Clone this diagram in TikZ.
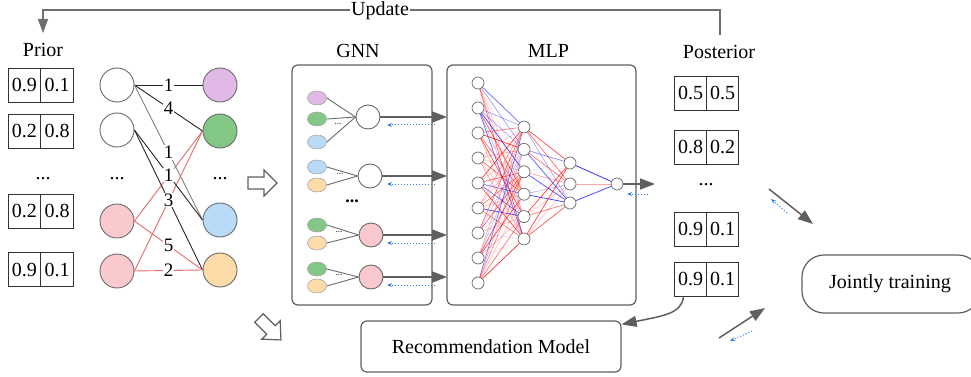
\documentclass[tikz,border=0pt]{standalone}
\usepackage{fontspec}
\setmainfont{Liberation Serif}
\newfontfamily\tmsfont{Liberation Serif}
\usetikzlibrary{arrows.meta,shapes.geometric,backgrounds}
\definecolor{lg}{HTML}{5F5F5F}
\definecolor{ngray}{HTML}{6A6A6A}
\definecolor{cpink}{HTML}{F9C9CE}
\definecolor{cpurple}{HTML}{E1B9E6}
\definecolor{cgreen}{HTML}{82C785}
\definecolor{cblue}{HTML}{B9DBF7}
\definecolor{corange}{HTML}{FDDCAA}
\definecolor{dotblue}{HTML}{2F7FE0}
\definecolor{ered}{HTML}{E36B6B}
\begin{document}
\begin{tikzpicture}[x=1pt,y=-1pt,
  font=\tmsfont\fontsize{20}{24}\selectfont,
  cell/.style={draw=black!80, line width=0.8pt, minimum width=32.5pt, minimum height=34pt, inner sep=0pt},
  bnode/.style={circle, draw=ngray, line width=0.9pt, minimum size=34pt, inner sep=0pt},
  gsmall/.style={ellipse, draw=ngray!60, line width=0.6pt, minimum width=19pt, minimum height=14pt, inner sep=0pt},
  gtarget/.style={circle, draw=ngray, line width=0.9pt, minimum size=24pt, inner sep=0pt},
  mnode/.style={circle, draw=ngray, fill=white, line width=0.7pt, minimum size=12pt, inner sep=0pt},
  panel/.style={draw=lg, line width=1.2pt, rounded corners=6pt, inner sep=0pt},
  garrow/.style={draw=lg, line width=1.5pt, -{Triangle[length=15pt,width=11pt]}},
  barrow/.style={draw=dotblue, line width=1pt, dotted, -{Stealth[length=5pt,width=4pt]}},
  elab/.style={fill=white, text=black, inner sep=1pt, font=\tmsfont\fontsize{19}{20}\selectfont},
  gline/.style={draw=ngray, line width=0.9pt},
  hollow/.style={draw=lg, line width=1.2pt, fill=white, line join=miter},
  tinydots/.style={font=\tmsfont\fontsize{9}{10}\selectfont, inner sep=0pt}
]
\useasboundingbox (0,0) rectangle (971,377);

% ---------- Update loop ----------
\coordinate (upA) at (720,35);
\coordinate (upB) at (720,10);
\coordinate (upC) at (43,10);
\coordinate (upD) at (43,33);
\draw[draw=lg!90, line width=1.3pt, -{Triangle[length=14pt,width=10pt]}] (upA) -- (upB) -- (upC) -- (upD);
\node[fill=white, inner sep=1pt] (update) at (380,11) {Update};

% ---------- Prior ----------
\node (prior) at (43,50) {Prior};
\node[cell] (pa1) at (24.5,85) {0.9};  \node[cell] (pb1) at (57,85) {0.1};
\node[cell] (pa2) at (24.5,131) {0.2}; \node[cell] (pb2) at (57,131) {0.8};
\node (pdots) at (43,179) {...};
\node[cell] (pa3) at (24.5,211) {0.2}; \node[cell] (pb3) at (57,211) {0.8};
\node[cell] (pa4) at (24.5,269.5) {0.9}; \node[cell] (pb4) at (57,269.5) {0.1};

% ---------- Bipartite graph ----------
\node[bnode, fill=white] (L1) at (117,85) {};
\node[bnode, fill=white] (L2) at (117,130) {};
\node (Ldots) at (117,179) {...};
\node[bnode, fill=cpink] (L3) at (117,221) {};
\node[bnode, fill=cpink] (L4) at (117,271) {};
\node[bnode, fill=cpurple] (R1) at (220,85) {};
\node[bnode, fill=cgreen] (R2) at (220,131) {};
\node (Rdots) at (220,179) {...};
\node[bnode, fill=cblue] (R3) at (220,220) {};
\node[bnode, fill=corange] (R4) at (220,270) {};

\draw[ered, line width=0.9pt] (L3.east) -- (R2.west);
\draw[ered, line width=0.9pt] (L4.east) -- (R2.west);
\draw[black!85, line width=0.9pt] (L1.east) -- node[elab]{1} (R1.west);
\draw[black!85, line width=0.9pt] (L1.east) -- node[elab]{4} (R2.west);
\draw[black!50, line width=0.9pt] (L1.east) -- node[elab]{1} (R3.west);
\draw[black!85, line width=0.9pt] (L2.east) -- node[elab]{1} (R3.west);
\draw[black!85, line width=0.9pt] (L2.east) -- node[elab]{3} (R4.west);
\draw[ered, line width=0.9pt] (L3.east) -- node[elab]{5} (R4.west);
\draw[ered, line width=0.9pt] (L4.east) -- node[elab]{2} (R4.west);

% ---------- hollow arrows ----------
\draw[hollow, shift={(248,183)}] (0,-6) -- (16,-6) -- (16,-13) -- (29,0) -- (16,13) -- (16,6) -- (0,6) -- cycle;
\draw[hollow, shift={(259,318)}, rotate=-45] (0,-6) -- (17,-6) -- (17,-13) -- (31,0) -- (17,13) -- (17,6) -- (0,6) -- cycle;

% ---------- GNN ----------
\node (gnnlab) at (358,51) {GNN};
\node[panel, minimum width=140pt, minimum height=240pt] (gnn) at (362,185) {};
\node[panel, minimum width=189pt, minimum height=240pt] (mlp) at (541.5,185) {};
\node (mlplab) at (548.5,51) {MLP};

% group 1
\node[gsmall, fill=cpurple] (g1a) at (317,98) {};
\node[gsmall, fill=cgreen] (g1b) at (317,119) {};
\node[gsmall, fill=cblue] (g1c) at (317,142) {};
\node[gtarget, fill=white] (t1) at (368,117) {};
\node[tinydots] (g1d) at (338,124) {...};
\foreach \s in {g1a,g1b,g1c} \draw[gline] (\s.east) -- (t1.west);
% group 2
\node[gsmall, fill=cblue] (g2a) at (317,167) {};
\node[gsmall, fill=corange] (g2b) at (317,185) {};
\node[gtarget, fill=white] (t2) at (370,176) {};
\node[tinydots] (g2d) at (340,174) {...};
\foreach \s in {g2a,g2b} \draw[gline] (\s.east) -- (t2.west);
% big dots
\node[font=\tmsfont\fontsize{18}{20}\selectfont\bfseries] (gdots) at (352,201) {...};
% group 3
\node[gsmall, fill=cgreen] (g3a) at (317,225) {};
\node[gsmall, fill=corange] (g3b) at (317,243) {};
\node[gtarget, fill=cpink] (t3) at (371,235) {};
\node[tinydots] (g3d) at (339,232) {...};
\foreach \s in {g3a,g3b} \draw[gline] (\s.east) -- (t3.west);
% group 4
\node[gsmall, fill=cgreen] (g4a) at (317,269) {};
\node[gsmall, fill=corange] (g4b) at (317,286) {};
\node[gtarget, fill=cpink] (t4) at (371,277) {};
\node[tinydots] (g4d) at (339,275) {...};
\foreach \s in {g4a,g4b} \draw[gline] (\s.east) -- (t4.west);

% arrows GNN -> MLP
\foreach \t/\yy in {t1/117,t2/176,t3/235,t4/277}{
  \coordinate (in\t) at (447,\yy);
  \draw[garrow] (\t.east) -- (in\t);
  \coordinate (bs\t) at (435,\yy+8);
  \coordinate (be\t) at (387,\yy+8);
  \draw[barrow] (bs\t) -- (be\t);
}

% ---------- MLP network ----------
\foreach \i in {1,...,9} \node[mnode] (a\i) at (478,{83+25*(\i-1)}) {};
\foreach \j in {1,...,6} \node[mnode] (b\j) at (524,{127+22.4*(\j-1)}) {};
\node[mnode] (c1) at (570,163) {};
\node[mnode] (c2) at (570,184) {};
\node[mnode] (c3) at (570,203) {};
\node[mnode] (d) at (617,184) {};
\pgfmathsetseed{11}
\begin{pgfonlayer}{background}
\foreach \i in {1,...,9}{\foreach \j in {1,...,6}{
  \pgfmathsetmacro\op{0.1+0.75*rnd}
  \pgfmathsetmacro\cc{rnd}
  \ifdim\cc pt<0.62pt \def\col{red}\else\def\col{blue}\fi
  \draw[draw=\col, draw opacity=\op, line width=0.7pt] (a\i) -- (b\j);
}}
\foreach \j in {1,...,6}{\foreach \k in {1,2,3}{
  \pgfmathsetmacro\op{0.1+0.7*rnd}
  \pgfmathsetmacro\cc{rnd}
  \ifdim\cc pt<0.45pt \def\col{red}\else\def\col{blue}\fi
  \draw[draw=\col, draw opacity=\op, line width=0.7pt] (b\j) -- (c\k);
}}
\draw[draw=blue, draw opacity=0.8, line width=0.8pt] (c1) -- (d);
\draw[draw=red, draw opacity=0.35, line width=0.8pt] (c2) -- (d);
\draw[draw=blue, draw opacity=0.7, line width=0.8pt] (c3) -- (d);
\end{pgfonlayer}

\coordinate (mlpout) at (655,184);
\draw[garrow] (d.east) -- (mlpout);
\coordinate (mbs) at (648,194);
\coordinate (mbe) at (627,194);
\draw[barrow] (mbs) -- (mbe);

% ---------- Posterior ----------
\node (post) at (719,52) {Posterior};
\node[cell] (qa1) at (690.5,93) {0.5}; \node[cell] (qb1) at (722.5,93) {0.5};
\node[cell] (qa2) at (690.5,147) {0.8}; \node[cell] (qb2) at (722.5,147) {0.2};
\node (qdots) at (706,185) {...};
\node[cell] (qa3) at (690.5,229) {0.9}; \node[cell] (qb3) at (722.5,229) {0.1};
\node[cell] (qa4) at (690.5,279) {0.9}; \node[cell] (qb4) at (722.5,279) {0.1};

% ---------- Recommendation & Jointly training ----------
\node[panel, minimum width=260pt, minimum height=51pt] (rec) at (491,346.5) {Recommendation Model};
\node[draw=lg, line width=1.2pt, rounded corners=22pt, minimum width=178pt, minimum height=58pt, inner sep=0pt] (joint) at (891,284) {};
\node (jtext) at (890,284) {Jointly training};

\draw[garrow] ([xshift=-7pt]qa4.south) .. controls (682,314) and (662,316) .. ([yshift=-4pt]rec.north east);

\coordinate (j1s) at (769,189);
\coordinate (j1e) at (813,224);
\draw[garrow] (j1s) -- (j1e);
\coordinate (j1bs) at (787,213);
\coordinate (j1be) at (771,199);
\draw[barrow] (j1bs) -- (j1be);

\coordinate (j2s) at (719,338);
\coordinate (j2e) at (765,308);
\draw[garrow] (j2s) -- (j2e);
\coordinate (j2bs) at (752,331);
\coordinate (j2be) at (730,341);
\draw[barrow] (j2bs) -- (j2be);
\end{tikzpicture}
\end{document}
